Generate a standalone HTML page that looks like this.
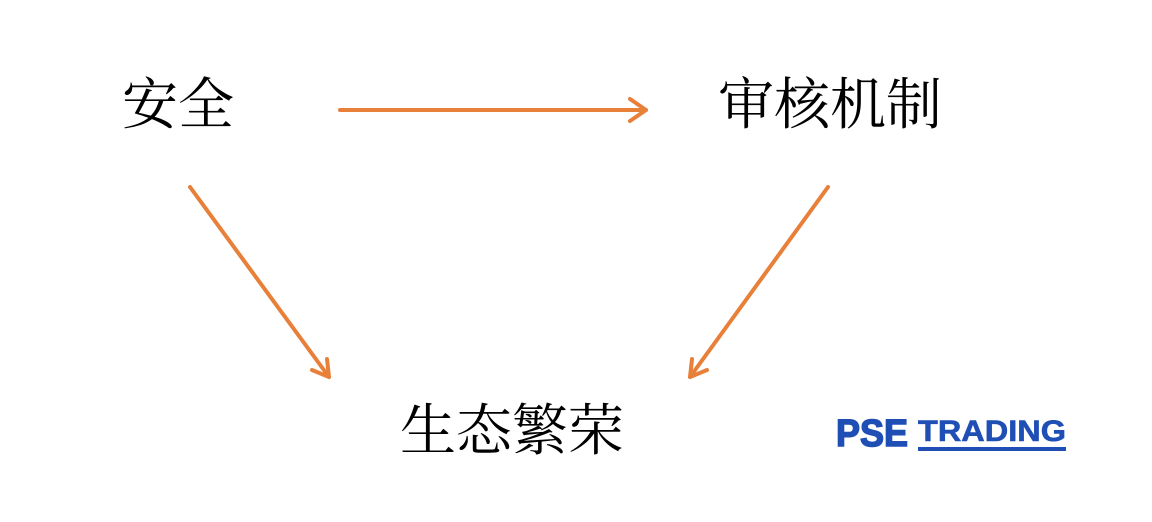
<!DOCTYPE html>
<html><head><meta charset="utf-8"><style>
body{margin:0;width:1152px;height:522px;background:#fff;overflow:hidden;position:relative;font-family:"Liberation Serif","Noto Serif CJK SC",serif;}
.t{position:absolute;font-size:56px;color:#000;line-height:1;white-space:nowrap}
</style></head><body>
<div class="t" style="left:122px;top:78px">安全</div>
<div class="t" style="left:718px;top:78px">审核机制</div>
<div class="t" style="left:400px;top:404px">生态繁荣</div>
<svg width="1152" height="522" style="position:absolute;left:0;top:0">
<g stroke="#e8803a" stroke-width="4" fill="none" stroke-linecap="round" stroke-linejoin="round">
<line x1="340" y1="110" x2="646" y2="110"/>
<polyline points="630,99 646,110 630,121"/>
<line x1="190" y1="187" x2="329" y2="377"/>
<polyline points="312,370 329,377 327,359"/>
<line x1="828" y1="187" x2="690" y2="377"/>
<polyline points="692,359 690,377 707,370"/>
</g>
<text x="836" y="446" font-family="Liberation Sans,sans-serif" font-weight="bold" font-size="38" fill="#1f4fb5" stroke="#1f4fb5" stroke-width="1.5" textLength="72" lengthAdjust="spacingAndGlyphs">PSE</text>
<text x="918" y="441" font-family="Liberation Sans,sans-serif" font-weight="bold" font-size="30" fill="#1f4fb5" stroke="#1f4fb5" stroke-width="0.6" textLength="148" lengthAdjust="spacingAndGlyphs">TRADING</text>
<rect x="918" y="447" width="148" height="4" fill="#1f4fb5"/>
</svg>
</body></html>
